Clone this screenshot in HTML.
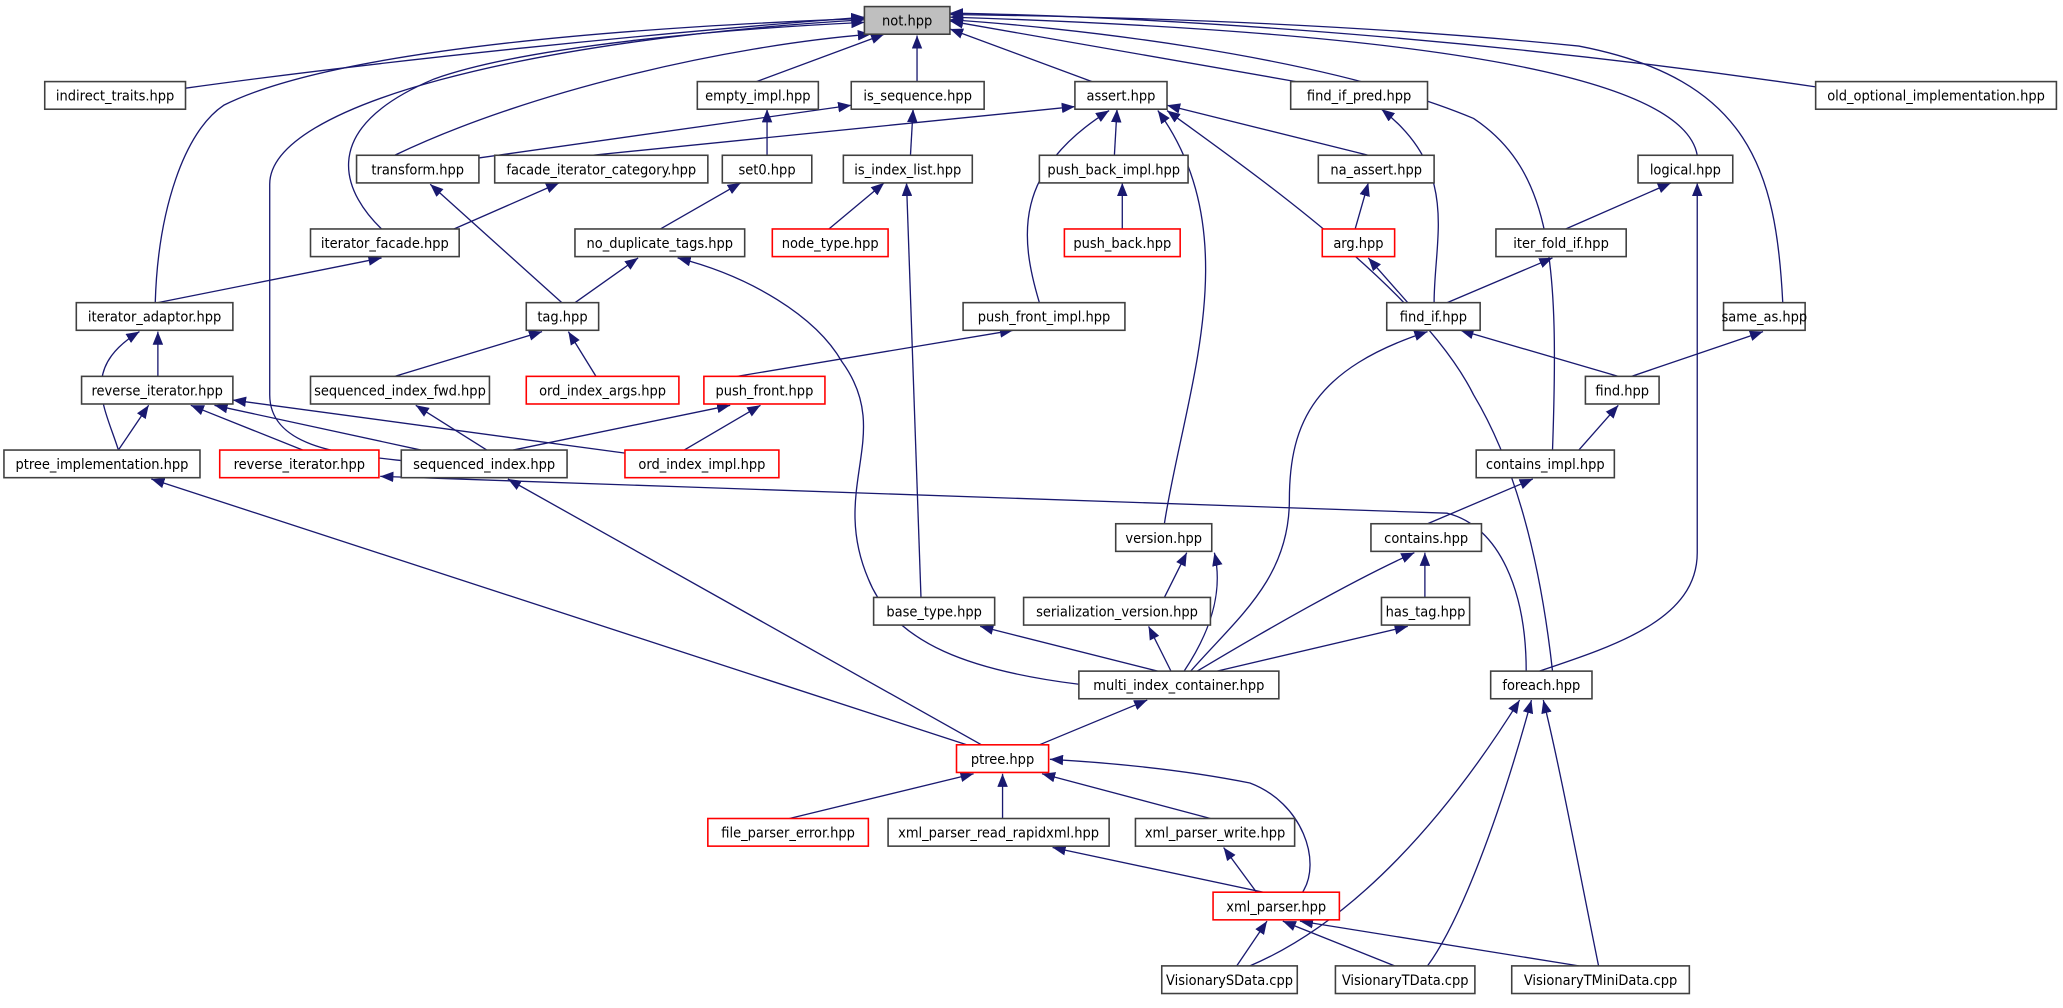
<!DOCTYPE html>
<html><head><meta charset="utf-8"><style>
html,body{margin:0;padding:0;background:#fff;width:2063px;height:1008px;overflow:hidden}
svg{display:block}
text{font-family:"DejaVu Sans Condensed","DejaVu Sans","Liberation Sans",sans-serif;font-size:11px;fill:#000}
.e{fill:none;stroke:#191970;stroke-width:1;marker-end:url(#a)}
.b{fill:#fff;stroke:#404040;stroke-width:1.2}
.r{fill:#fff;stroke:#ff0000;stroke-width:1.2}
</style></head><body>
<svg width="2063" height="1008" viewBox="0 0 1568 766" preserveAspectRatio="none" xmlns="http://www.w3.org/2000/svg">
<defs><marker id="a" viewBox="0 0 10 8" refX="10" refY="4" markerWidth="10" markerHeight="8" markerUnits="userSpaceOnUse" orient="auto"><path d="M0,0 L10,4 L0,8 z" fill="#191970"/></marker></defs>
<g>
<!-- edges to not.hpp -->
<path class="e" d="M141,67 C300,45 500,25 657,13"/>
<path class="e" d="M118,230 C120,160 140,100 170,80 C260,35 500,20 657,14"/>
<path class="e" d="M305,350 C260,345 205,340 205,300 L205,140 C205,80 400,30 657,15"/>
<path class="e" d="M290,174 C265,150 235,100 330,60 C400,35 550,22 657,17"/>
<path class="e" d="M300,118 C400,70 550,35 662,26"/>
<path class="e" d="M575,62 L672,26"/>
<path class="e" d="M697,62 L697,27"/>
<path class="e" d="M830,62 L722,22"/>
<path class="e" d="M985,62 L722,16"/>
<path class="e" d="M1180,342 C1185,200 1180,130 1120,90 C1000,40 800,20 722,15"/>
<path class="e" d="M1290,118 C1280,60 1100,25 722,13"/>
<path class="e" d="M1355,230 C1350,130 1330,60 1200,35 C1000,15 800,12 722,11"/>
<path class="e" d="M1380,66 C1100,25 850,12 722,10"/>
<!-- other edges -->
<path class="e" d="M364,120 L647,80"/>
<path class="e" d="M450,118 L817,81"/>
<path class="e" d="M583,118 L583,83"/>
<path class="e" d="M692,118 L694,83"/>
<path class="e" d="M847,118 L849,83"/>
<path class="e" d="M1040,118 L887,80"/>
<path class="e" d="M1180,510 C1170,420 1150,350 1120,300 C1080,220 950,130 887,84"/>
<path class="e" d="M885,398 C900,300 950,180 880,84"/>
<path class="e" d="M790,230 C775,180 770,130 843,84"/>
<path class="e" d="M1090,230 C1090,180 1110,130 1050,83"/>
<path class="e" d="M345,174 L425,139"/>
<path class="e" d="M502,174 L563,139"/>
<path class="e" d="M630,174 L672,139"/>
<path class="e" d="M700,454 L689,139"/>
<path class="e" d="M853,174 L853,139"/>
<path class="e" d="M1030,174 L1040,139"/>
<path class="e" d="M1190,174 L1270,139"/>
<path class="e" d="M1170,510 C1230,490 1290,470 1290,420 L1290,139"/>
<path class="e" d="M120,230 L290,196"/>
<path class="e" d="M427,230 L327,140"/>
<path class="e" d="M437,230 L485,196"/>
<path class="e" d="M820,520 C740,510 680,490 660,440 C630,370 680,330 640,275 C620,240 570,210 515,196"/>
<path class="e" d="M1070,230 L1040,196"/>
<path class="e" d="M1100,230 L1180,196"/>
<path class="e" d="M905,510 C940,470 980,440 980,380 C980,320 1000,280 1085,252"/>
<path class="e" d="M1230,286 L1110,251"/>
<path class="e" d="M1240,286 L1340,252"/>
<path class="e" d="M1200,342 L1230,308"/>
<path class="e" d="M1085,398 L1165,364"/>
<path class="e" d="M1083,454 L1083,420"/>
<path class="e" d="M910,510 C960,480 1030,440 1075,420"/>
<path class="e" d="M925,510 L1070,476"/>
<path class="e" d="M900,510 C920,480 930,450 923,420"/>
<path class="e" d="M885,454 L902,420"/>
<path class="e" d="M890,510 L873,476"/>
<path class="e" d="M880,510 L745,476"/>
<path class="e" d="M790,566 L872,532"/>
<path class="e" d="M735,566 L115,364"/>
<path class="e" d="M746,566 L386,364"/>
<path class="e" d="M120,286 L120,252"/>
<path class="e" d="M90,342 C80,310 60,280 106,252"/>
<path class="e" d="M90,342 L113,308"/>
<path class="e" d="M230,342 L145,308"/>
<path class="e" d="M320,342 L163,308"/>
<path class="e" d="M480,345 L177,304"/>
<path class="e" d="M300,286 L412,252"/>
<path class="e" d="M453,286 L432,252"/>
<path class="e" d="M370,342 L316,308"/>
<path class="e" d="M560,286 L770,251"/>
<path class="e" d="M390,342 L555,308"/>
<path class="e" d="M520,342 L578,308"/>
<path class="e" d="M1160,510 C1160,450 1140,400 1100,390 L520,370 L289,362"/>
<path class="e" d="M600,622 L740,588"/>
<path class="e" d="M762,622 L762,588"/>
<path class="e" d="M920,622 L792,588"/>
<path class="e" d="M990,678 C1005,655 990,610 950,595 C900,585 850,580 798,577"/>
<path class="e" d="M960,678 L800,644"/>
<path class="e" d="M955,678 L930,644"/>
<path class="e" d="M940,734 L963,700"/>
<path class="e" d="M950,734 C1030,700 1100,620 1155,532"/>
<path class="e" d="M1060,734 L975,700"/>
<path class="e" d="M1085,734 C1110,700 1140,620 1164,532"/>
<path class="e" d="M1200,734 L988,700"/>
<path class="e" d="M1215,734 C1200,660 1185,580 1173,532"/>
</g>
<g>
<rect x="657" y="5" width="65" height="21" fill="#bfbfbf" stroke="#404040" stroke-width="1.2"/><text x="689.5" y="19.5" text-anchor="middle">not.hpp</text>
<rect class="b" x="34" y="62" width="107" height="21"/><text x="87.5" y="76.5" text-anchor="middle">indirect_traits.hpp</text>
<rect class="b" x="530" y="62" width="92" height="21"/><text x="576" y="76.5" text-anchor="middle">empty_impl.hpp</text>
<rect class="b" x="647" y="62" width="101" height="21"/><text x="697.5" y="76.5" text-anchor="middle">is_sequence.hpp</text>
<rect class="b" x="817" y="62" width="70" height="21"/><text x="852" y="76.5" text-anchor="middle">assert.hpp</text>
<rect class="b" x="981" y="62" width="104" height="21"/><text x="1033" y="76.5" text-anchor="middle">find_if_pred.hpp</text>
<rect class="b" x="1380" y="62" width="183" height="21"/><text x="1471.5" y="76.5" text-anchor="middle">old_optional_implementation.hpp</text>
<rect class="b" x="271" y="118" width="93" height="21"/><text x="317.5" y="132.5" text-anchor="middle">transform.hpp</text>
<rect class="b" x="376" y="118" width="162" height="21"/><text x="457" y="132.5" text-anchor="middle">facade_iterator_category.hpp</text>
<rect class="b" x="549" y="118" width="68" height="21"/><text x="583" y="132.5" text-anchor="middle">set0.hpp</text>
<rect class="b" x="641" y="118" width="98" height="21"/><text x="690" y="132.5" text-anchor="middle">is_index_list.hpp</text>
<rect class="b" x="790" y="118" width="113" height="21"/><text x="846.5" y="132.5" text-anchor="middle">push_back_impl.hpp</text>
<rect class="b" x="1002" y="118" width="88" height="21"/><text x="1046" y="132.5" text-anchor="middle">na_assert.hpp</text>
<rect class="b" x="1245" y="118" width="72" height="21"/><text x="1281" y="132.5" text-anchor="middle">logical.hpp</text>
<rect class="b" x="236" y="174" width="113" height="21"/><text x="292.5" y="188.5" text-anchor="middle">iterator_facade.hpp</text>
<rect class="b" x="437" y="174" width="129" height="21"/><text x="501.5" y="188.5" text-anchor="middle">no_duplicate_tags.hpp</text>
<rect class="r" x="587" y="174" width="88" height="21"/><text x="631" y="188.5" text-anchor="middle">node_type.hpp</text>
<rect class="r" x="809" y="174" width="88" height="21"/><text x="853" y="188.5" text-anchor="middle">push_back.hpp</text>
<rect class="r" x="1005" y="174" width="55" height="21"/><text x="1032.5" y="188.5" text-anchor="middle">arg.hpp</text>
<rect class="b" x="1137" y="174" width="99" height="21"/><text x="1186.5" y="188.5" text-anchor="middle">iter_fold_if.hpp</text>
<rect class="b" x="58" y="230" width="119" height="21"/><text x="117.5" y="244.5" text-anchor="middle">iterator_adaptor.hpp</text>
<rect class="b" x="400" y="230" width="55" height="21"/><text x="427.5" y="244.5" text-anchor="middle">tag.hpp</text>
<rect class="b" x="732" y="230" width="123" height="21"/><text x="793.5" y="244.5" text-anchor="middle">push_front_impl.hpp</text>
<rect class="b" x="1054" y="230" width="71" height="21"/><text x="1089.5" y="244.5" text-anchor="middle">find_if.hpp</text>
<rect class="b" x="1310" y="230" width="62" height="21"/><text x="1341" y="244.5" text-anchor="middle">same_as.hpp</text>
<rect class="b" x="62" y="286" width="115" height="21"/><text x="119.5" y="300.5" text-anchor="middle">reverse_iterator.hpp</text>
<rect class="b" x="236" y="286" width="136" height="21"/><text x="304" y="300.5" text-anchor="middle">sequenced_index_fwd.hpp</text>
<rect class="r" x="400" y="286" width="116" height="21"/><text x="458" y="300.5" text-anchor="middle">ord_index_args.hpp</text>
<rect class="r" x="535" y="286" width="92" height="21"/><text x="581" y="300.5" text-anchor="middle">push_front.hpp</text>
<rect class="b" x="1205" y="286" width="56" height="21"/><text x="1233" y="300.5" text-anchor="middle">find.hpp</text>
<rect class="b" x="3" y="342" width="149" height="21"/><text x="77.5" y="356.5" text-anchor="middle">ptree_implementation.hpp</text>
<rect class="r" x="167" y="342" width="121" height="21"/><text x="227.5" y="356.5" text-anchor="middle">reverse_iterator.hpp</text>
<rect class="b" x="305" y="342" width="126" height="21"/><text x="368" y="356.5" text-anchor="middle">sequenced_index.hpp</text>
<rect class="r" x="475" y="342" width="117" height="21"/><text x="533.5" y="356.5" text-anchor="middle">ord_index_impl.hpp</text>
<rect class="b" x="1122" y="342" width="105" height="21"/><text x="1174.5" y="356.5" text-anchor="middle">contains_impl.hpp</text>
<rect class="b" x="848" y="398" width="73" height="21"/><text x="884.5" y="412.5" text-anchor="middle">version.hpp</text>
<rect class="b" x="1042" y="398" width="84" height="21"/><text x="1084" y="412.5" text-anchor="middle">contains.hpp</text>
<rect class="b" x="664" y="454" width="92" height="21"/><text x="710" y="468.5" text-anchor="middle">base_type.hpp</text>
<rect class="b" x="778" y="454" width="142" height="21"/><text x="849" y="468.5" text-anchor="middle">serialization_version.hpp</text>
<rect class="b" x="1050" y="454" width="67" height="21"/><text x="1083.5" y="468.5" text-anchor="middle">has_tag.hpp</text>
<rect class="b" x="820" y="510" width="152" height="21"/><text x="896" y="524.5" text-anchor="middle">multi_index_container.hpp</text>
<rect class="b" x="1133" y="510" width="77" height="21"/><text x="1171.5" y="524.5" text-anchor="middle">foreach.hpp</text>
<rect class="r" x="727" y="566" width="70" height="21"/><text x="762" y="580.5" text-anchor="middle">ptree.hpp</text>
<rect class="r" x="538" y="622" width="122" height="21"/><text x="599" y="636.5" text-anchor="middle">file_parser_error.hpp</text>
<rect class="b" x="675" y="622" width="168" height="21"/><text x="759" y="636.5" text-anchor="middle">xml_parser_read_rapidxml.hpp</text>
<rect class="b" x="863" y="622" width="121" height="21"/><text x="923.5" y="636.5" text-anchor="middle">xml_parser_write.hpp</text>
<rect class="r" x="922" y="678" width="96" height="21"/><text x="970" y="692.5" text-anchor="middle">xml_parser.hpp</text>
<rect class="b" x="883" y="734" width="103" height="21"/><text x="934.5" y="748.5" text-anchor="middle">VisionarySData.cpp</text>
<rect class="b" x="1015" y="734" width="106" height="21"/><text x="1068" y="748.5" text-anchor="middle">VisionaryTData.cpp</text>
<rect class="b" x="1149" y="734" width="135" height="21"/><text x="1216.5" y="748.5" text-anchor="middle">VisionaryTMiniData.cpp</text>
</g>
</svg>
</body></html>
